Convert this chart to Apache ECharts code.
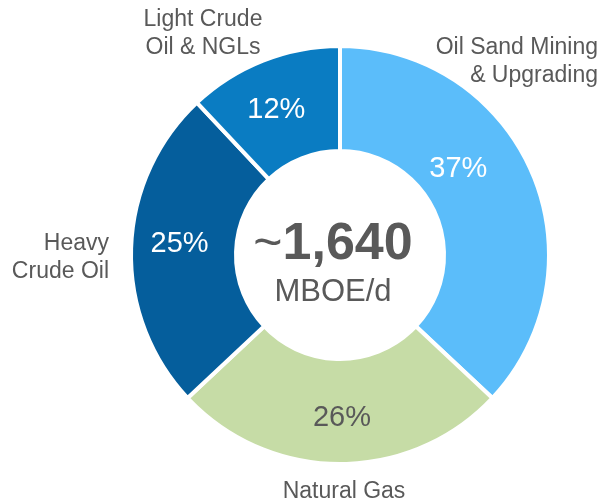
<!DOCTYPE html>
<html>
<head>
<meta charset="utf-8">
<script src="https://cdn.jsdelivr.net/npm/echarts@6/dist/echarts.min.js"></script>
<style>
  html, body { margin: 0; padding: 0; background: #ffffff; }
  #chart { width: 605px; height: 503px; }
</style>
</head>
<body>
<div id="chart"></div>
<script>
  const segments = ['Oil Sand Mining\n& Upgrading', 'Natural Gas', 'Heavy\nCrude Oil', 'Light Crude\nOil & NGLs'];
  const shares = [37, 26, 25, 12];
  const sliceColors = ['#5bbdfa', '#c6dca6', '#055e9c', '#0a7cc2'];
  const pctColors = ['#ffffff', '#595959', '#ffffff', '#ffffff'];
  const totalLabel = '1,640';
  const unitLabel = 'MBOE/d';

  const font = "'Liberation Sans', Arial, sans-serif";

  // nudges for the in-ring percentages, relative to the default slice middle
  const pctShift = [[-28, -23], [2, 3], [-1, -6], [-5, 3]];
  // where the category names sit around the ring
  const namePos = [
    { x: 598, y: 62, align: 'right' },
    { x: 344, y: 492, align: 'center' },
    { x: 109, y: 258, align: 'right' },
    { x: 203, y: 34, align: 'center' },
  ];

  const chart = echarts.init(document.getElementById('chart'), null, { renderer: 'canvas' });

  const center = [340, 255];
  const radius = [104, 209];

  chart.setOption({
    animation: false,
    title: {
      text: '{t|~}{n|' + totalLabel + '}\n{u|' + unitLabel + '}',
      left: 328,
      top: 214,
      textAlign: 'center',
      textStyle: {
        fontWeight: 'normal',
        rich: {
          t: { fontSize: 50, fontWeight: 'normal', fontFamily: font, color: '#595959', lineHeight: 52 },
          n: { fontSize: 52, fontWeight: 'bold', fontFamily: font, color: '#595959', lineHeight: 52 },
          u: { fontSize: 31, fontWeight: 'normal', fontFamily: font, color: '#595959', lineHeight: 42 },
        },
      },
    },
    series: [
      {
        type: 'pie',
        center,
        radius,
        startAngle: 90,
        clockwise: true,
        silent: true,
        itemStyle: { borderColor: '#ffffff', borderWidth: 4 },
        label: {
          show: true,
          position: 'inside',
          formatter: '{c}%',
          fontSize: 29,
          fontFamily: font,
        },
        labelLine: { show: false },
        labelLayout: (p) => ({ dx: pctShift[p.dataIndex][0], dy: pctShift[p.dataIndex][1] }),
        data: segments.map((name, i) => ({
          name,
          value: shares[i],
          itemStyle: { color: sliceColors[i] },
          label: { color: pctColors[i] },
        })),
      },
      {
        type: 'pie',
        center,
        radius,
        startAngle: 90,
        clockwise: true,
        silent: true,
        itemStyle: { color: 'rgba(0,0,0,0)', borderWidth: 0 },
        label: {
          show: true,
          position: 'outside',
          formatter: '{b}',
          fontSize: 23,
          lineHeight: 28,
          fontFamily: font,
          color: '#595959',
          width: 220,
          overflow: 'none',
        },
        labelLine: { show: false },
        labelLayout: (p) => ({
          x: namePos[p.dataIndex].x,
          y: namePos[p.dataIndex].y,
          align: namePos[p.dataIndex].align,
          verticalAlign: 'middle',
        }),
        data: segments.map((name, i) => ({ name, value: shares[i] })),
      },
    ],
  });
</script>
</body>
</html>
